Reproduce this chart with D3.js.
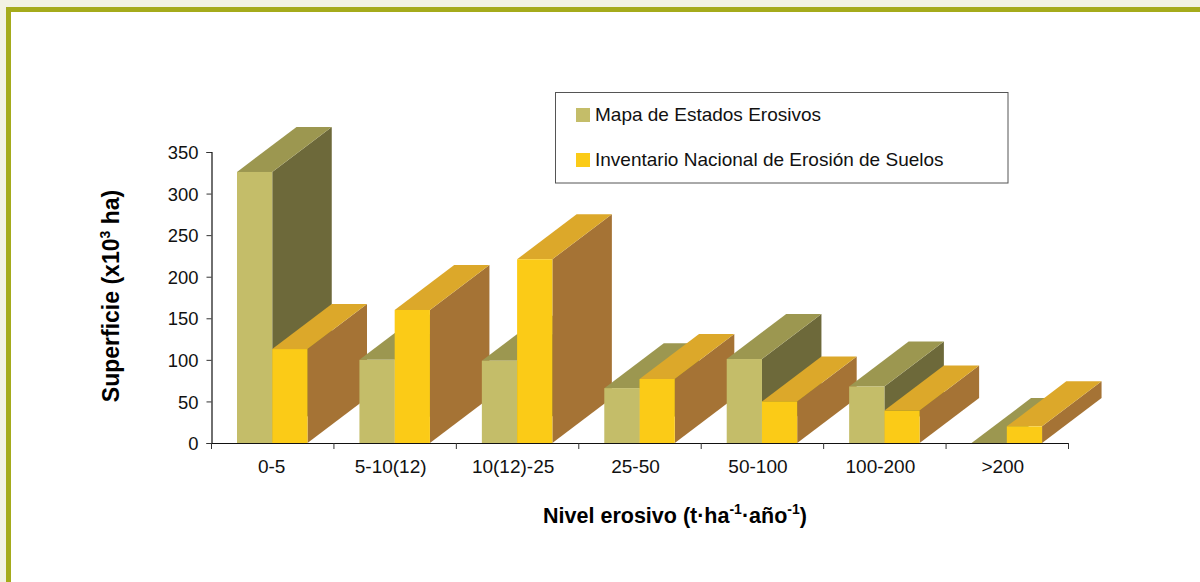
<!DOCTYPE html>
<html>
<head>
<meta charset="utf-8">
<script src="https://cdn.jsdelivr.net/npm/d3@7"></script>
<style>
  html, body { margin: 0; padding: 0; background: #fff; }
  svg { display: block; }
  text { font-family: "Liberation Sans", Arial, sans-serif; fill: #111; }
  .y-axis .tick text { font-size: 18.4px; }
  .x-axis .tick text { font-size: 19px; }
  .axis-title { font-weight: bold; fill: #000; }
  .legend-label { font-size: 19px; }
</style>
</head>
<body>
<div id="chart"></div>
<script>
const categories = ['0-5', '5-10(12)', '10(12)-25', '25-50', '50-100', '100-200', '>200'];
const mapaValues = [326, 100, 99, 66, 101, 68, 0];
const inventarioValues = [113, 160, 221, 77, 50, 39, 20];
const yTicks = [0, 50, 100, 150, 200, 250, 300, 350];
const seriesNames = ['Mapa de Estados Erosivos', 'Inventario Nacional de Erosión de Suelos'];

const width = 1200, height = 582;
const depthX = 59.5, depthY = 45; // oblique offset of the 3D bars

const colors = [
  { front: '#c4bd69', top: '#9c9750', side: '#6d693a' },
  { front: '#fbcb17', top: '#dca82a', side: '#a57335' }
];

const svg = d3.select('#chart').append('svg')
  .attr('width', width)
  .attr('height', height);

// page frame
svg.append('rect').attr('width', width).attr('height', height).attr('fill', '#f2f2e2');
svg.append('rect').attr('x', 6).attr('y', 7).attr('width', width - 6).attr('height', height - 7).attr('fill', '#a5ab1b');
svg.append('rect').attr('x', 11).attr('y', 12).attr('width', width - 11).attr('height', height - 12).attr('fill', '#fff');

const x = d3.scaleBand().domain(categories).range([211.5, 1068.5]);
const inner = d3.scaleBand().domain([0, 1]).range([25.5, 96]);
const y = d3.scaleLinear().domain([0, 350]).range([443, 152]);

// bars, left to right so that later fronts cover earlier side faces
const bars = svg.append('g');
categories.forEach((cat, i) => {
  [mapaValues[i], inventarioValues[i]].forEach((value, s) => {
    const x0 = x(cat) + inner(s);
    const x1 = x0 + inner.bandwidth();
    const y0 = y(0);
    const y1 = y(value);
    const bar = bars.append('g');
    bar.append('path')
      .attr('fill', colors[s].side)
      .attr('d', `M${x1},${y0}L${x1 + depthX},${y0 - depthY}L${x1 + depthX},${y1 - depthY}L${x1},${y1}Z`);
    bar.append('path')
      .attr('fill', colors[s].top)
      .attr('d', `M${x0},${y1}L${x0 + depthX},${y1 - depthY}L${x1 + depthX},${y1 - depthY}L${x1},${y1}Z`);
    if (value > 0) {
      bar.append('rect')
        .attr('x', x0)
        .attr('y', y1)
        .attr('width', x1 - x0)
        .attr('height', y0 - y1)
        .attr('fill', colors[s].front);
    }
  });
});

// y axis
const yAxis = svg.append('g')
  .attr('class', 'y-axis')
  .attr('transform', 'translate(211.5,0)')
  .call(d3.axisLeft(y).tickValues(yTicks).tickSize(5).tickPadding(8));
yAxis.select('.domain').attr('stroke', '#111').attr('stroke-width', 1.2);
yAxis.selectAll('.tick line').attr('stroke', '#333');
yAxis.selectAll('.tick text').attr('dy', '0.36em');

// x axis: labels at band centres, ticks at band edges
const xAxis = svg.append('g')
  .attr('class', 'x-axis')
  .attr('transform', 'translate(0,443)')
  .call(d3.axisBottom(x).tickSize(0).tickPadding(17));
xAxis.select('.domain').attr('stroke', '#111').attr('stroke-width', 1.2);
// labels sit a little left of the band centre in the original
xAxis.selectAll('.tick text').attr('dy', '0.71em').attr('dx', (d, i) => i ? -4.5 : -1);
xAxis.selectAll('.edge')
  .data(d3.range(categories.length + 1))
  .enter().append('line')
  .attr('class', 'edge')
  .attr('x1', i => 211.5 + i * x.step())
  .attr('x2', i => 211.5 + i * x.step())
  .attr('y1', 0)
  .attr('y2', 6)
  .attr('stroke', '#333');

// axis titles
const yTitle = svg.append('text')
  .attr('class', 'axis-title')
  .style('font-size', '23px')
  .attr('text-anchor', 'middle')
  .attr('transform', 'translate(119,296) rotate(-90)');
yTitle.append('tspan').text('Superficie (x10');
yTitle.append('tspan').attr('dy', -9).style('font-size', '14px').text('3');
yTitle.append('tspan').attr('dy', 9).text(' ha)');

const xTitle = svg.append('text')
  .attr('class', 'axis-title')
  .style('font-size', '21.5px')
  .attr('text-anchor', 'middle')
  .attr('x', 675)
  .attr('y', 523);
xTitle.append('tspan').text('Nivel erosivo (t·ha');
xTitle.append('tspan').attr('dy', -9).style('font-size', '14px').text('-1');
xTitle.append('tspan').attr('dy', 9).text('·año');
xTitle.append('tspan').attr('dy', -9).style('font-size', '14px').text('-1');
xTitle.append('tspan').attr('dy', 9).text(')');

// legend
const legend = svg.append('g');
legend.append('rect')
  .attr('x', 555.5).attr('y', 92.5)
  .attr('width', 452.5).attr('height', 90.5)
  .attr('fill', '#fff')
  .attr('stroke', '#555');
seriesNames.forEach((name, i) => {
  const rowY = 115 + i * 45;
  legend.append('rect')
    .attr('x', 576).attr('y', rowY - 7)
    .attr('width', 14).attr('height', 14)
    .attr('fill', colors[i].front);
  legend.append('text')
    .attr('class', 'legend-label')
    .attr('x', 595).attr('y', rowY + 6)
    .text(name);
});
</script>
</body>
</html>
